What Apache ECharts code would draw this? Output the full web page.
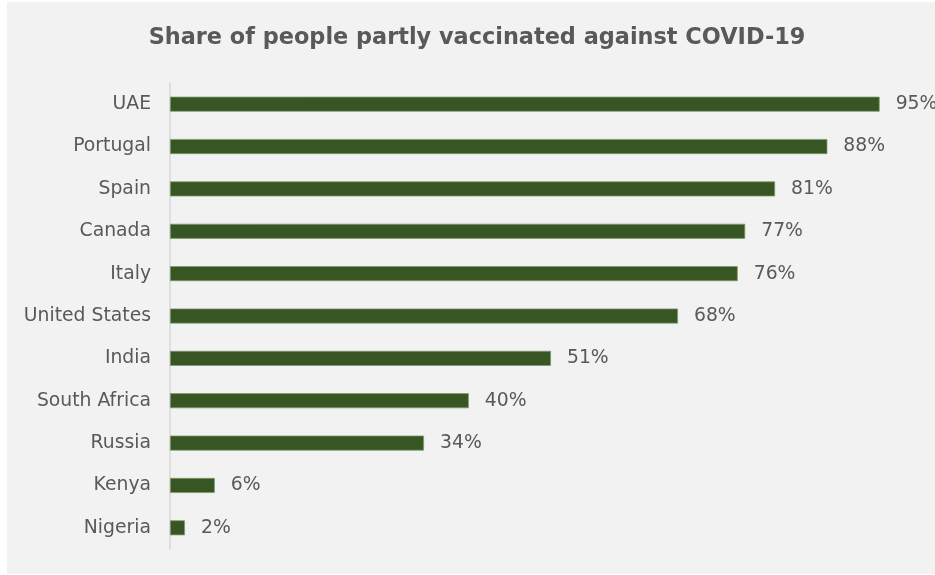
<!DOCTYPE html>
<html>
<head>
<meta charset="utf-8">
<script src="https://cdn.jsdelivr.net/npm/echarts@6/dist/echarts.min.js"></script>
<style>
  html, body { margin: 0; padding: 0; background: #ffffff; }
  #chart { width: 935px; height: 575px; }
</style>
</head>
<body>
<div id="chart"></div>
<script>
// Countries, top to bottom
const countries = ['UAE', 'Portugal', 'Spain', 'Canada', 'Italy', 'United States',
  'India', 'South Africa', 'Russia', 'Kenya', 'Nigeria'];
// Share partly vaccinated, percent
const shares = [95, 88, 81, 77, 76, 68, 51, 40, 34, 6, 2];

const chart = echarts.init(document.getElementById('chart'), null, { renderer: 'canvas' });

chart.setOption({
  backgroundColor: '#ffffff',
  animation: false,
  graphic: [{
    type: 'rect',
    z: -10,
    shape: { x: 7, y: 2, width: 928, height: 572 },
    style: { fill: '#f2f2f2' }
  }],
  title: {
    text: 'Share of people partly vaccinated against COVID-19',
    left: 472,
    textAlign: 'center',
    top: 22,
    textStyle: {
      fontFamily: 'DejaVu Sans',
      fontWeight: 'bold',
      fontSize: 22.4,
      color: '#595959'
    }
  },
  grid: { left: 170, right: 18, top: 83, bottom: 26, containLabel: false },
  xAxis: {
    type: 'value',
    min: 0,
    max: 100,
    show: false
  },
  yAxis: {
    type: 'category',
    inverse: true,
    data: countries,
    axisLine: { show: true, lineStyle: { color: '#d9d9d9', width: 1.5 } },
    axisTick: { show: false },
    axisLabel: {
      margin: 19,
      fontFamily: 'DejaVu Sans',
      fontSize: 18.8,
      color: '#595959'
    }
  },
  series: [{
    type: 'bar',
    data: shares,
    barWidth: 15,
    itemStyle: {
      color: '#375623',
      borderColor: '#7f9a6e',
      borderWidth: 0.75
    },
    label: {
      show: true,
      position: 'right',
      distance: 16,
      formatter: p => p.value + '%',
      fontFamily: 'DejaVu Sans',
      fontSize: 18.8,
      color: '#595959'
    }
  }]
});
</script>
</body>
</html>
